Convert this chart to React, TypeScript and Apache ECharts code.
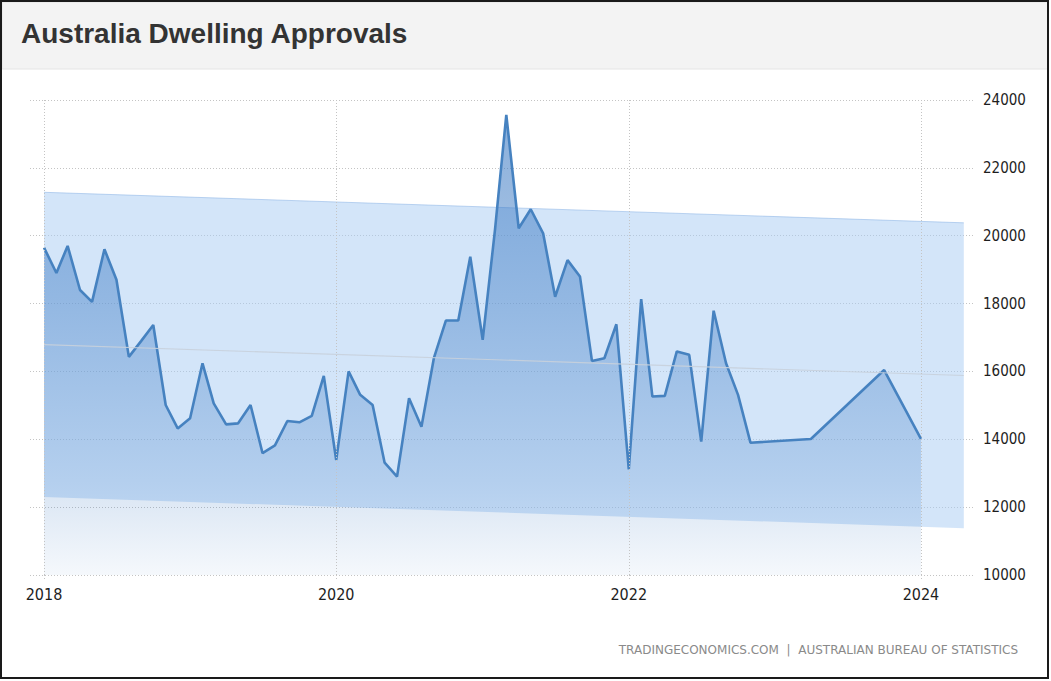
import React, { useEffect, useRef } from "react";
import * as echarts from "echarts";

const TITLE = "Australia Dwelling Approvals";
const SOURCE = "TRADINGECONOMICS.COM  |  AUSTRALIAN BUREAU OF STATISTICS";

const DATES = [
  "2018-01", "2018-02", "2018-03", "2018-04", "2018-05", "2018-06", "2018-07", "2018-08", "2018-09", "2018-10", "2018-11", "2018-12",
  "2019-01", "2019-02", "2019-03", "2019-04", "2019-05", "2019-06", "2019-07", "2019-08", "2019-09", "2019-10", "2019-11", "2019-12",
  "2020-01", "2020-02", "2020-03", "2020-04", "2020-05", "2020-06", "2020-07", "2020-08", "2020-09", "2020-10", "2020-11", "2020-12",
  "2021-01", "2021-02", "2021-03", "2021-04", "2021-05", "2021-06", "2021-07", "2021-08", "2021-09", "2021-10", "2021-11", "2021-12",
  "2022-01", "2022-02", "2022-03", "2022-04", "2022-05", "2022-06", "2022-07", "2022-08", "2022-09", "2022-10", "2022-11",
  "2023-04", "2023-10", "2024-01",
];
const VALUES = [
  19650, 18900, 19700, 18400, 18050, 19600, 18700, 16430, 16900, 17370, 15010, 14320,
  14620, 16240, 15060, 14440, 14470, 15010, 13590, 13820, 14540, 14500, 14690, 15870,
  13390, 16000, 15310, 15010, 13310, 12900, 15210, 14370, 16390, 17500, 17500, 19380,
  16930, 20200, 23560, 20220, 20780, 20070, 18200, 19280, 18800, 16310, 16390, 17390,
  13110, 18130, 15260, 15280, 16590, 16490, 13930, 17790, 16240, 15310, 13900,
  14010, 16040, 14010,
];

const BAND_DATES = ["2018-01-01", "2024-04-17"];
const BAND_UPPER = [21280, 20380];
const BAND_LOWER = [12300, 11380];
const TREND = [16790, 15880];

const X_TICKS = ["2018-01-01", "2020-01-01", "2022-01-01", "2024-01-01"];
const X_MIN = "2017-11-27";
const X_MAX = "2024-05-15";
const Y_MIN = 10000;
const Y_MAX = 24000;
const Y_STEP = 2000;

function toTs(s: string): number {
  const p = s.split("-").map(Number);
  return Date.UTC(p[0], p[1] - 1, p[2] || 1);
}

const NARROW = "'Liberation Sans Narrow', 'DejaVu Sans Condensed', 'Liberation Sans', sans-serif";

export default function App() {
  const ref = useRef<HTMLDivElement>(null);
  useEffect(() => {
    if (!ref.current) return;
    const chart = echarts.init(ref.current, null, { renderer: "svg" });
    const main = DATES.map((d, i) => [toTs(d), VALUES[i]]);
    const band = BAND_DATES.map((d, i) => [toTs(d), BAND_LOWER[i], BAND_UPPER[i]]);
    const trend = BAND_DATES.map((d, i) => [toTs(d), TREND[i]]);
    const xTicks = X_TICKS.map(toTs);
    const dotted = { color: "#c4c4c4", width: 1, type: [1, 2] as number[] };

    chart.setOption({
      animation: false,
      backgroundColor: "#ffffff",
      grid: { left: 30, right: 76, top: 100, bottom: 106, containLabel: false },
      xAxis: {
        type: "value",
        min: toTs(X_MIN),
        max: toTs(X_MAX),
        axisLine: { show: false },
        axisTick: { show: true, length: 5, customValues: xTicks, lineStyle: dotted },
        splitLine: { show: false },
        axisLabel: {
          customValues: xTicks,
          formatter: (v: number) => String(new Date(v).getUTCFullYear()),
          color: "#1e1e1e",
          fontFamily: NARROW,
          fontSize: 16,
          margin: 11,
        },
      },
      yAxis: {
        type: "value",
        position: "right",
        min: Y_MIN,
        max: Y_MAX,
        interval: Y_STEP,
        axisLine: { show: false },
        axisTick: { show: false },
        splitLine: { show: true, lineStyle: dotted },
        axisLabel: {
          color: "#1e1e1e",
          fontFamily: NARROW,
          fontSize: 15,
          margin: 8,
          align: "left",
          formatter: (v: number) => String(v),
        },
      },
      graphic: [
        {
          type: "rect",
          silent: true,
          z: -10,
          shape: { x: 2, y: 2, width: 1046, height: 67 },
          style: { fill: "#f3f3f3", stroke: "#e4e4e4", lineWidth: 1 },
        },
        {
          type: "text",
          silent: true,
          x: 21,
          y: 33,
          style: {
            text: TITLE,
            font: "bold 28px 'Liberation Sans', Arial, sans-serif",
            fill: "#333333",
            verticalAlign: "middle",
            align: "left",
          },
        },
        {
          type: "text",
          silent: true,
          x: 1018,
          y: 650,
          style: {
            text: SOURCE,
            font: "12px 'DejaVu Sans', sans-serif",
            fill: "#8a8a8a",
            verticalAlign: "middle",
            align: "right",
          },
        },
        {
          type: "rect",
          silent: true,
          z: 100,
          shape: { x: 1, y: 1, width: 1047, height: 677 },
          style: { fill: "none", stroke: "#1a1a1a", lineWidth: 2 },
        },
      ],
      series: [
        {
          type: "custom",
          name: "band",
          data: band,
          encode: { x: 0, y: [1, 2] },
          silent: true,
          z: 1,
          renderItem: (params: any, api: any) => {
            if (params.dataIndex !== 0) return null;
            const top = band.map((b) => api.coord([b[0], b[2]]));
            const bot = band.map((b) => api.coord([b[0], b[1]])).reverse();
            return {
              type: "group",
              children: [
                {
                  type: "polygon",
                  shape: { points: top.concat(bot) },
                  style: { fill: "rgba(168,204,244,0.5)", stroke: "none" },
                },
                {
                  type: "polyline",
                  shape: { points: top },
                  style: { fill: "none", stroke: "rgba(140,180,230,0.55)", lineWidth: 1 },
                },
              ],
            };
          },
          markLine: {
            silent: true,
            symbol: "none",
            label: { show: false },
            lineStyle: { color: "#c4c4c4", width: 1, type: [1, 2] },
            data: xTicks.map((t) => ({ xAxis: t })),
          },
        },
        {
          type: "line",
          name: "Dwelling Approvals",
          data: main,
          symbol: "none",
          lineStyle: { width: 2.6, color: "#4682c0" },
          areaStyle: {
            origin: "start",
            color: new echarts.graphic.LinearGradient(0, 0, 0, 1, [
              { offset: 0, color: "rgba(50,115,192,0.82)" },
              { offset: 0.4, color: "rgba(50,115,192,0.57)" },
              { offset: 0.8, color: "rgba(50,115,192,0.27)" },
              { offset: 1, color: "rgba(50,115,192,0.07)" },
            ]),
          },
          z: 2,
        },
        {
          type: "line",
          name: "trend",
          data: trend,
          symbol: "none",
          lineStyle: { width: 1.2, color: "rgba(200,208,220,0.9)" },
          silent: true,
          z: 3,
        },
      ],
    });
    return () => chart.dispose();
  }, []);
  return (
    <div
      ref={ref}
      style={{ position: "fixed", left: 0, top: 0, width: 1051, height: 681, background: "#fff" }}
    />
  );
}
